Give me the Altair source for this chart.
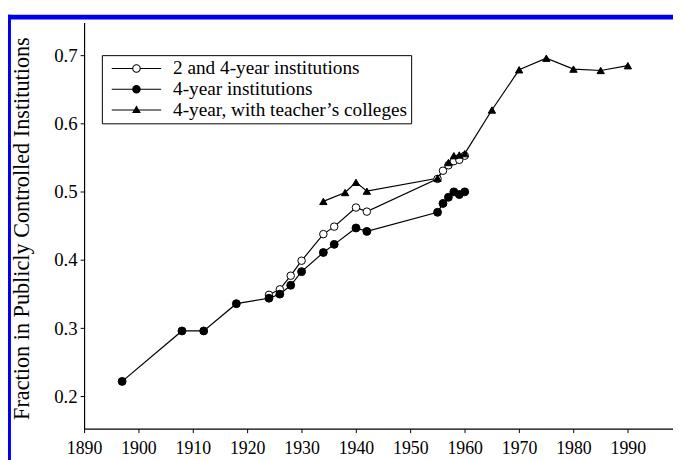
import altair as alt
import pandas as pd

# ---- data ----
S_OPEN = "2 and 4-year institutions"
S_FILL = "4-year institutions"
S_TRI = "4-year, with teacher\u2019s colleges"

open_years = [1924, 1926, 1928, 1930, 1934, 1936, 1940, 1942, 1955, 1956, 1957, 1958, 1959, 1960]
open_vals = [0.349, 0.357, 0.377, 0.399, 0.438, 0.449, 0.477, 0.471, 0.519, 0.531, 0.539, 0.545, 0.547, 0.553]

fill_years = [1897, 1908, 1912, 1918, 1924, 1926, 1928, 1930, 1934, 1936, 1940, 1942, 1955, 1956, 1957, 1958, 1959, 1960]
fill_vals = [0.222, 0.296, 0.296, 0.336, 0.344, 0.350, 0.363, 0.383, 0.411, 0.423, 0.447, 0.442, 0.470, 0.483, 0.492, 0.500, 0.496, 0.500]

tri_years = [1934, 1938, 1940, 1942, 1955, 1957, 1958, 1959, 1960, 1965, 1970, 1975, 1980, 1985, 1990]
tri_vals = [0.486, 0.499, 0.514, 0.501, 0.520, 0.543, 0.553, 0.554, 0.556, 0.620, 0.679, 0.696, 0.680, 0.678, 0.685]

x_ticks = list(range(1890, 2000, 10))
y_ticks = [0.2, 0.3, 0.4, 0.5, 0.6, 0.7]
series = [S_OPEN, S_FILL, S_TRI]

rows = []
for s, ys, vs in [(S_OPEN, open_years, open_vals), (S_FILL, fill_years, fill_vals), (S_TRI, tri_years, tri_vals)]:
    for y, v in zip(ys, vs):
        rows.append({"series": s, "year": y, "value": v})
df = pd.DataFrame(rows)

FONT = "Liberation Serif"

xs = alt.Scale(domain=[1890, 1998.3], nice=False, zero=False)
ys_ = alt.Scale(domain=[0.1527, 0.7483], nice=False, zero=False)

x_enc = alt.X("year:Q", scale=xs,
              axis=alt.Axis(values=x_ticks, format="d", title=None, grid=False,
                            labelFlush=False, labelOverlap=False, labelFont=FONT,
                            labelFontSize=18, labelColor="black", labelPadding=7,
                            tickSize=4, tickColor="black", domainColor="black",
                            domainWidth=1.2, tickWidth=1))
y_enc = alt.Y("value:Q", scale=ys_,
              axis=alt.Axis(values=y_ticks, format=".1f", grid=False,
                            title="Fraction in Publicly Controlled Institutions",
                            titleFont=FONT, titleFontSize=22.5, titleFontWeight="normal",
                            titleColor="black", titleAngle=270, titleBaseline="middle",
                            titleAlign="center", titleX=-63, titleY=208,
                            labelFont=FONT, labelFontSize=19,
                            labelColor="black", labelPadding=3, tickSize=4,
                            tickColor="black", domainColor="black", domainWidth=1.2))

# legend symbols: line with marker in the middle
p_open = "M-1,0L-0.15,0M0.15,0L1,0M0.15,0A0.15,0.15,0,1,1,-0.15,0A0.15,0.15,0,1,1,0.15,0Z"
p_fill = "M-1,0L1,0M0.15,0A0.15,0.15,0,1,1,-0.15,0A0.15,0.15,0,1,1,0.15,0Z"
p_tri = "M-1,0L1,0M0,-0.14L0.14,0.1L-0.14,0.1Z"

leg = alt.Legend(orient="none", legendX=18, legendY=33, title=None, padding=3,
                 strokeColor="black", fillColor="white", cornerRadius=0,
                 symbolSize=2500, clipHeight=21, rowPadding=0, labelOffset=11,
                 symbolOffset=6, labelFont=FONT, labelFontSize=19.5, labelColor="black",
                 symbolStrokeWidth=1.1, symbolOpacity=1, labelLimit=0)

base = alt.Chart(df)

lines = base.mark_line(color="black", strokeWidth=1.2).encode(
    x=x_enc, y=y_enc, detail="series:N", order="year:Q")

def pts(name, shape, fill, size):
    return base.transform_filter(alt.datum.series == name).mark_point(
        filled=True, shape=shape, fill=fill, stroke="black", strokeWidth=1,
        size=size, opacity=1).encode(x="year:Q", y="value:Q")

p1 = pts(S_OPEN, "circle", "white", 58)
p2 = pts(S_FILL, "circle", "black", 64)
p3 = pts(S_TRI, "triangle-up", "black", 55)

# legend-only layer: no rows survive the filter, the scales keep their explicit domains
legend_layer = base.transform_filter(alt.datum.year < 0).mark_point(
    filled=True, strokeWidth=1.1, size=2500).encode(
    x="year:Q", y="value:Q",
    shape=alt.Shape("series:N", scale=alt.Scale(domain=series, range=[p_open, p_fill, p_tri]), legend=leg),
    fill=alt.Fill("series:N", scale=alt.Scale(domain=series, range=["white", "black", "black"]), legend=leg),
    stroke=alt.Stroke("series:N", scale=alt.Scale(domain=series, range=["black", "black", "black"]), legend=leg),
)

# decorative blue frame of the scanned figure
frame_df = pd.DataFrame({"k": [0]})
frame_top = alt.Chart(frame_df).mark_rect(color="#0000ee").encode(
    x=alt.value(-80), x2=alt.value(620), y=alt.value(-8), y2=alt.value(-3))
frame_left = alt.Chart(frame_df).mark_rect(color="#0000ee").encode(
    x=alt.value(-80), x2=alt.value(-74), y=alt.value(-8), y2=alt.value(460))

chart = alt.layer(lines, p1, p2, p3, legend_layer, frame_top, frame_left).properties(
    width=596, height=411,
    padding={"left": 77, "top": 12, "right": 0, "bottom": 29},
    autosize=alt.AutoSizeParams(type="none"),
    background="white",
).configure_view(stroke=None)

chart.save("out.html", embed_options={"renderer": "svg", "actions": False})
